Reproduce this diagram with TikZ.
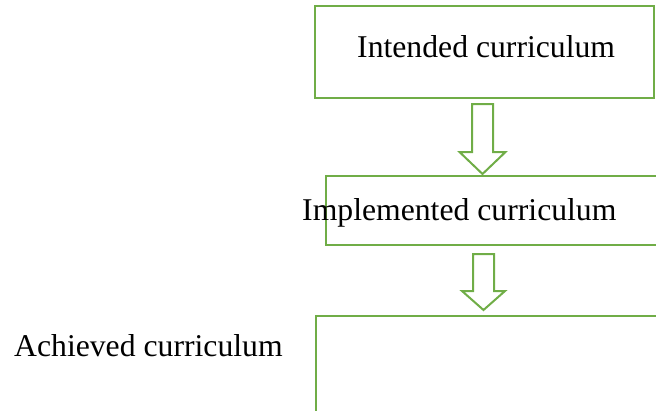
\documentclass[tikz,border=0pt]{standalone}
\usepackage{fontspec}
\setmainfont{Liberation Serif}
\definecolor{boxgreen}{HTML}{70AD47}
\begin{document}
\begin{tikzpicture}[x=1pt,y=-1pt,
  box/.style={draw=boxgreen,line width=2pt,inner sep=0pt,anchor=north west},
  lbl/.style={font=\fontsize{31.7}{38}\selectfont,inner sep=0pt,anchor=base west},
  blockarrow/.style={draw=boxgreen,line width=2pt,line join=miter}]
\useasboundingbox (0,0) rectangle (656,410);
\clip (0,0) rectangle (656,410);
% boxes
\node[box,minimum width=339pt,minimum height=92pt] (intended) at (314,5) {};
\node[box,minimum width=380pt,minimum height=69pt] (implemented) at (325,175) {};
\node[box,minimum width=400pt,minimum height=150pt] (achieved) at (315,315) {};
% texts
\node[lbl] (tintended) at (357,57) {Intended curriculum};
\node[lbl] (timplemented) at (302,220) {Implemented curriculum};
\node[lbl] (tachieved) at (14,356) {Achieved curriculum};
% block arrows
\coordinate (a1) at (482.5,104);
\coordinate (a2) at (483.5,254);
\draw[blockarrow,shift={(a1)}] (-10.5,0) -- (10.5,0) -- (10.5,48) -- (23,48) -- (0,70) -- (-23,48) -- (-10.5,48) -- cycle;
\draw[blockarrow,shift={(a2)}] (-10.5,0) -- (10.5,0) -- (10.5,37) -- (21.5,37) -- (0,56) -- (-21.5,37) -- (-10.5,37) -- cycle;
\end{tikzpicture}
\end{document}
